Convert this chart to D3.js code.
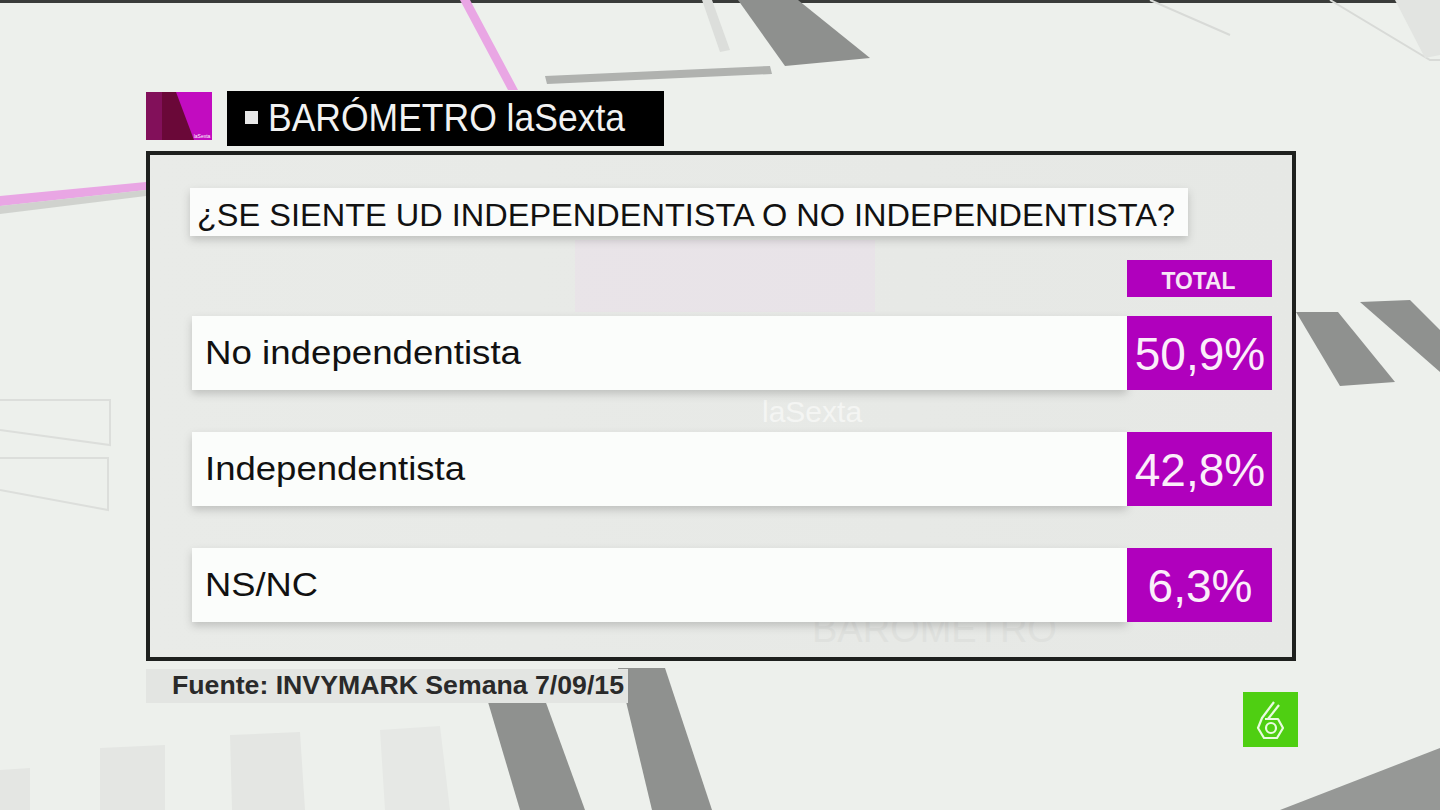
<!DOCTYPE html>
<html>
<head>
<meta charset="utf-8">
<script src="https://cdn.jsdelivr.net/npm/d3@7/dist/d3.min.js"></script>
<style>
  html, body { margin: 0; padding: 0; background: #edf0ec; overflow: hidden; }
  svg { display: block; }
  text { font-family: "Liberation Sans", Arial, Helvetica, sans-serif; }
</style>
</head>
<body>
<svg id="chart" width="1440" height="810"></svg>
<script>
// ---- data ----
const headerTitle = "BARÓMETRO laSexta";
const question = "¿SE SIENTE UD INDEPENDENTISTA O NO INDEPENDENTISTA?";
const columnLabel = "TOTAL";
const categories = ["No independentista", "Independentista", "NS/NC"];
const values = [50.9, 42.8, 6.3];
const source = "Fuente: INVYMARK Semana 7/09/15";

const W = 1440, H = 810;
const svg = d3.select("#chart");
const magenta = "#b000bd";

const defs = svg.append("defs");
const sh = defs.append("filter").attr("id", "shadow").attr("x", "-5%").attr("y", "-30%").attr("width", "110%").attr("height", "170%");
sh.append("feDropShadow").attr("dx", 0).attr("dy", 4).attr("stdDeviation", 4).attr("flood-color", "#000").attr("flood-opacity", 0.18);
const boxGrad = defs.append("linearGradient").attr("id", "boxGrad").attr("x1", 0).attr("x2", 1).attr("y1", 0).attr("y2", 0);
boxGrad.append("stop").attr("offset", "0").attr("stop-color", "#e9ebe8");
boxGrad.append("stop").attr("offset", "1").attr("stop-color", "#e6e8e5");

// ---- background decoration ----
const bg = svg.append("g");
bg.append("rect").attr("width", W).attr("height", H).attr("fill", "#edf0ec");
bg.append("rect").attr("width", W).attr("height", 3).attr("fill", "#3a3c3a");
const poly = (pts, fill, op) => bg.append("polygon").attr("points", pts.map(p => p.join(",")).join(" ")).attr("fill", fill).attr("opacity", op);
// top shapes
poly([[738,0],[798,0],[870,58],[785,66]], "#8e908e", 1);
poly([[545,76],[770,66],[772,74],[547,84]], "#a9aba9", 0.9);
poly([[702,0],[712,0],[730,50],[720,52]], "#dcdedb", 1);
poly([[460,0],[470,0],[518,90],[508,90]], "#e9a6e4", 1);
poly([[0,196],[146,182],[146,190],[0,206]], "#e9a6e4", 1);
poly([[0,206],[146,190],[146,196],[0,214]], "#c8cac7", 0.8);
bg.append("path").attr("d", "M1150,0 L1230,35 M1330,0 L1430,60 L1440,60")
  .attr("fill", "none").attr("stroke", "#d8dad7").attr("stroke-width", 2);
poly([[1395,0],[1440,0],[1440,55],[1425,58]], "#e2e4e1", 1);
// right side shapes
poly([[1296,312],[1338,312],[1395,382],[1340,386]], "#8f918f", 1);
poly([[1360,302],[1410,300],[1440,330],[1440,372]], "#8f918f", 1);
// left faint lines
bg.append("path").attr("d", "M0,400 L110,400 L110,445 L0,430 M0,458 L108,458 L108,510 L0,490")
  .attr("fill", "none").attr("stroke", "#dcdedb").attr("stroke-width", 2);
// bottom shapes
poly([[488,702],[545,700],[585,810],[520,810]], "#8f918f", 1);
poly([[618,668],[665,668],[712,810],[652,810]], "#8f918f", 1);
poly([[1280,810],[1440,748],[1440,810]], "#969896", 1);
poly([[0,770],[30,768],[30,810],[0,810]], "#e4e6e3", 1);
poly([[100,748],[165,745],[165,810],[100,810]], "#e4e6e3", 1);
poly([[230,735],[300,732],[305,810],[232,810]], "#e4e6e3", 1);
poly([[380,730],[440,726],[450,810],[385,810]], "#e6e8e5", 1);

// ---- header ----
const hdr = svg.append("g");
hdr.append("rect").attr("x", 146).attr("y", 92).attr("width", 66).attr("height", 48).attr("fill", "#c20cc0");
hdr.append("polygon").attr("points", "146,92 176,92 194,140 146,140").attr("fill", "#6a0838");
hdr.append("polygon").attr("points", "146,92 162,92 162,140 146,140").attr("fill", "#82105a");
hdr.append("text").attr("x", 202).attr("y", 138).attr("font-size", 5).attr("fill", "#fff").attr("text-anchor", "middle").text("laSexta");
hdr.append("rect").attr("x", 227).attr("y", 91).attr("width", 437).attr("height", 55).attr("fill", "#000");
hdr.append("rect").attr("x", 245).attr("y", 111).attr("width", 13).attr("height", 13).attr("fill", "#e8e8e8");
hdr.append("text").attr("x", 268).attr("y", 131).attr("font-size", 39).attr("fill", "#f2f2f2")
  .attr("textLength", 357).attr("lengthAdjust", "spacingAndGlyphs").text(headerTitle);

// ---- main box ----
const box = svg.append("g");
box.append("rect").attr("x", 148).attr("y", 153).attr("width", 1146).attr("height", 506)
  .attr("fill", "url(#boxGrad)").attr("stroke", "#1e201e").attr("stroke-width", 4);
// watermark
box.append("rect").attr("x", 575).attr("y", 240).attr("width", 300).attr("height", 72).attr("fill", "#eadfea").attr("opacity", 0.6);
box.append("text").attr("x", 762).attr("y", 422).attr("font-size", 30).attr("fill", "#f4f5f3").text("laSexta");
box.append("text").attr("x", 812).attr("y", 642).attr("font-size", 38).attr("fill", "#dfe1de").text("BARÓMETRO");

// question
box.append("rect").attr("x", 190).attr("y", 188).attr("width", 998).attr("height", 48).attr("fill", "#fbfcfb").attr("filter", "url(#shadow)");
box.append("text").attr("x", 197).attr("y", 226).attr("font-size", 32).attr("fill", "#111")
  .attr("textLength", 978).attr("lengthAdjust", "spacingAndGlyphs").text(question);

// scales
const y = d3.scaleBand().domain(categories).range([316, 622]).paddingInner(42 / 116).paddingOuter(0);
const x = d3.scaleLinear().domain([0, 1]).range([192, 1272]);
const xSplit = 1127;

// column header
box.append("rect").attr("x", xSplit).attr("y", 260).attr("width", x(1) - xSplit).attr("height", 37).attr("fill", magenta);
box.append("text").attr("x", (xSplit + x(1)) / 2 - 1).attr("y", 289).attr("text-anchor", "middle")
  .attr("font-size", 24).attr("font-weight", "bold").attr("fill", "#f7e6f6")
  .attr("textLength", 74).attr("lengthAdjust", "spacingAndGlyphs").text(columnLabel);

const labelWidths = { "No independentista": 316, "Independentista": 260, "NS/NC": 113 };
const fmt = v => d3.format(".1f")(v).replace(".", ",") + "%";

const rows = box.selectAll("g.row").data(categories.map((c, i) => ({ c, v: values[i] })))
  .join("g").attr("class", "row");
rows.append("rect").attr("x", x(0)).attr("y", d => y(d.c)).attr("width", xSplit - x(0)).attr("height", y.bandwidth())
  .attr("fill", "#fbfdfb").attr("filter", "url(#shadow)");
rows.append("rect").attr("x", xSplit).attr("y", d => y(d.c)).attr("width", x(1) - xSplit).attr("height", y.bandwidth())
  .attr("fill", magenta);
rows.append("text").attr("x", 205).attr("y", d => y(d.c) + 48).attr("font-size", 33).attr("fill", "#111")
  .attr("textLength", d => labelWidths[d.c]).attr("lengthAdjust", "spacingAndGlyphs").text(d => d.c);
rows.append("text").attr("x", (xSplit + x(1)) / 2 + 0.5).attr("y", d => y(d.c) + 54).attr("text-anchor", "middle")
  .attr("font-size", 46).attr("fill", "#fbeefa").text(d => fmt(d.v));

// ---- source ----
svg.append("rect").attr("x", 146).attr("y", 669).attr("width", 482).attr("height", 34).attr("fill", "#e3e5e2");
svg.append("text").attr("x", 172).attr("y", 694).attr("font-size", 25).attr("font-weight", "bold").attr("fill", "#2a2a2a")
  .attr("textLength", 452).attr("lengthAdjust", "spacingAndGlyphs").text(source);

// ---- channel logo ----
const lg = svg.append("g").attr("transform", "translate(1243,692)");
lg.append("rect").attr("width", 55).attr("height", 55).attr("fill", "#4fcf12");
lg.append("path").attr("d", "M31,10 L19,26 L15,36 L21,46 L34,46 L40,36 L35,27 L22,27")
  .attr("fill", "none").attr("stroke", "#e9fbe0").attr("stroke-width", 2.2).attr("stroke-linejoin", "round");
lg.append("path").attr("d", "M36,13 L25,27")
  .attr("fill", "none").attr("stroke", "#e9fbe0").attr("stroke-width", 2.2);
lg.append("circle").attr("cx", 28).attr("cy", 36).attr("r", 5).attr("fill", "none").attr("stroke", "#e9fbe0").attr("stroke-width", 2.2);
</script>
</body>
</html>
